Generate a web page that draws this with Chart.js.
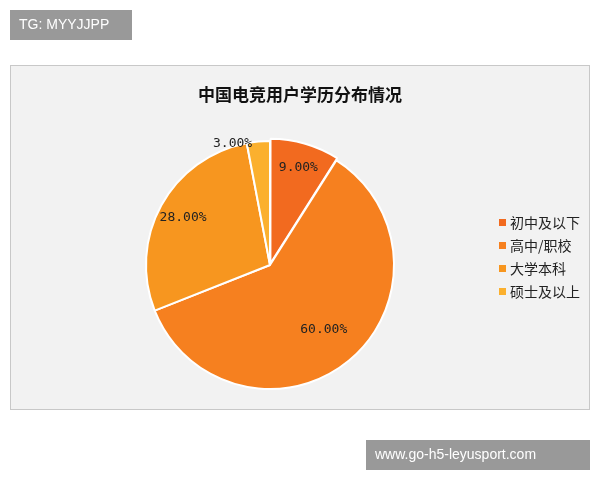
<!DOCTYPE html>
<html><head><meta charset="utf-8">
<script src="https://cdn.jsdelivr.net/npm/chart.js@4"></script>
<style>body{margin:0;background:#fff}#wrap{width:600px;height:480px}</style>
</head><body>
<div id="wrap"><canvas id="c" width="600" height="480"></canvas></div>
<script>
const categories = ['初中及以下', '高中/职校', '大学本科', '硕士及以上'];
const shares = [9, 60, 28, 3];
const colors = ['#f26a1f', '#f6801f', '#f7961f', '#fbb02e'];
const chartTitle = '中国电竞用户学历分布情况';

// label distance from centre, as a share of the radius
const labelRadius = [0.82, 0.68, 0.8, 0.98];

const decor = {
    id: 'decor',
    beforeDraw(chart) {
        const ctx = chart.ctx;
        ctx.save();
        ctx.fillStyle = '#f2f2f2';
        ctx.strokeStyle = '#c8c8c8';
        ctx.fillRect(10, 65, 580, 345);
        ctx.strokeRect(10.5, 65.5, 579, 344);
        ctx.fillStyle = '#111';
        ctx.font = 'bold 17px "Noto Sans CJK SC"';
        ctx.textAlign = 'center';
        ctx.textBaseline = 'middle';
        ctx.fillText(chartTitle, 300, 95);
        ctx.restore();
    },
    afterDraw(chart) {
        const ctx = chart.ctx;
        ctx.save();
        const meta = chart.getDatasetMeta(0);
        ctx.font = '13px "DejaVu Sans Mono"';
        ctx.fillStyle = '#222';
        ctx.textAlign = 'center';
        ctx.textBaseline = 'middle';
        meta.data.forEach((arc, i) => {
            const a = (arc.startAngle + arc.endAngle) / 2;
            const r = arc.outerRadius * labelRadius[i];
            let x = arc.x + Math.cos(a) * r, y = arc.y + Math.sin(a) * r;
            if (shares[i] < 5) x -= 26;
            ctx.fillText(shares[i].toFixed(2) + '%', x, y);
        });
        ctx.font = '14px "Noto Sans CJK SC"';
        ctx.textAlign = 'left';
        categories.forEach((c, i) => {
            const y = 223 + i * 23;
            ctx.fillStyle = colors[i];
            ctx.fillRect(499, y - 4, 7, 7);
            ctx.fillStyle = '#222';
            ctx.fillText(c, 510, y);
        });
        ctx.font = '14px "Liberation Sans"';
        ctx.fillStyle = '#999';
        ctx.fillRect(10, 10, 122, 30);
        ctx.fillStyle = '#fff';
        ctx.fillText('TG: MYYJJPP', 19, 25);
        ctx.fillStyle = '#999';
        ctx.fillRect(366, 440, 224, 30);
        ctx.fillStyle = '#fff';
        ctx.fillText('www.go-h5-leyusport.com', 375, 455);
        ctx.restore();
    }
};

new Chart(document.getElementById('c'), {
    type: 'pie',
    data: {
        labels: categories,
        datasets: [{
            data: shares,
            backgroundColor: colors,
            borderColor: '#fff',
            borderWidth: 2,
            offset: [6, 0, 0, 0]
        }]
    },
    options: {
        responsive: false,
        animation: false,
        layout: { padding: { left: 142, right: 202, top: 137, bottom: 87 } },
        plugins: { legend: { display: false }, tooltip: { enabled: false } }
    },
    plugins: [decor]
});
</script>
</body></html>
